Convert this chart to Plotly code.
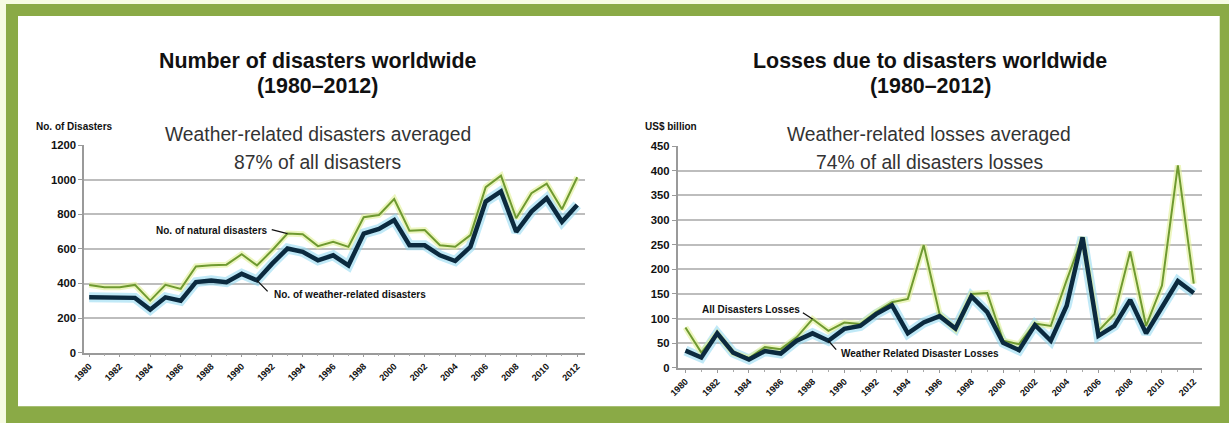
import plotly.graph_objects as go

W, H = 1229, 423

# ---- data -------------------------------------------------------------
years = list(range(1980, 2013))

natural_disasters = [392, 379, 379, 392, 301, 392, 369, 499, 505, 509,
                     569, 505, 592, 689, 685, 616, 641, 612, 783, 796,
                     888, 705, 709, 621, 612, 680, 957, 1023, 777, 922,
                     977, 829, 1014]
weather_disasters = [320, 320, 317, 317, 249, 320, 301, 408, 418, 408,
                     456, 418, 515, 602, 583, 534, 563, 505, 689, 715,
                     767, 621, 621, 563, 530, 612, 874, 932, 699, 816,
                     893, 757, 854]

all_losses = [82, 31, 70, 30, 20, 42, 38, 62, 99, 75,
              92, 89, 113, 133, 140, 249, 109, 78, 150, 152,
              55, 48, 90, 85, 178, 265, 75, 109, 236, 85,
              167, 411, 171]
weather_losses = [35, 21, 70, 31, 17, 34, 29, 55, 70, 55,
                  79, 85, 109, 127, 70, 92, 105, 80, 145, 113,
                  51, 36, 87, 55, 126, 265, 65, 85, 138, 70,
                  123, 176, 152]

xtick_vals = list(range(1980, 2013, 2))
xtick_text = [str(v) for v in xtick_vals]

# ---- styling ------------------------------------------------------------
FRAME_GREEN = "#8aaa46"
OUTER_BG = "#f6fbe2"
GRID = "#bdbdbd"
NAVY = "#0b2a3f"
OLIVE = "#6f9a30"
FONT = "Liberation Sans, Arial, sans-serif"

# layout positions are given in screen pixels; the page is shown slightly
# inset and shrunk, so convert through that view transform
OX, OY = 13.0, 8.0
SX, SY = 0.988, 0.964


def px(x):
    return (x - OX) / SX / W


def py(y):
    return 1 - (y - OY) / SY / H


def fs(size):
    return round(size / 0.976, 1)


fig = go.Figure()


def add_pair(xa, ya, top, bottom):
    # soft halos under the lines, then the lines themselves
    fig.add_trace(go.Scatter(x=years, y=bottom, xaxis=xa, yaxis=ya, mode="lines",
                             line=dict(color="rgba(140,215,240,0.55)", width=10),
                             hoverinfo="skip", showlegend=False))
    fig.add_trace(go.Scatter(x=years, y=top, xaxis=xa, yaxis=ya, mode="lines",
                             line=dict(color="rgba(225,240,150,0.6)", width=6),
                             hoverinfo="skip", showlegend=False))
    fig.add_trace(go.Scatter(x=years, y=top, xaxis=xa, yaxis=ya, mode="lines",
                             line=dict(color=OLIVE, width=2), showlegend=False))
    fig.add_trace(go.Scatter(x=years, y=bottom, xaxis=xa, yaxis=ya, mode="lines",
                             line=dict(color=NAVY, width=4.5), showlegend=False))


add_pair("x", "y", natural_disasters, weather_disasters)
add_pair("x2", "y2", all_losses, weather_losses)

xaxis_common = dict(
    tickmode="array", tickvals=xtick_vals, ticktext=xtick_text, tickangle=-45,
    tickfont=dict(family=FONT, size=fs(9), color="#111", weight="bold"),
    showgrid=False, zeroline=False, showline=True, linecolor="#9a9a9a", linewidth=1.5,
    ticks="outside", ticklen=3, tickcolor="#9a9a9a",
    minor=dict(ticks="outside", ticklen=2, tickcolor="#aaaaaa", dtick=1, tick0=1980),
    fixedrange=True,
)
yaxis_common = dict(
    tickfont=dict(family=FONT, size=fs(11), color="#111", weight="bold"),
    showgrid=True, gridcolor=GRID, gridwidth=1.5, zeroline=False,
    showline=True, linecolor="#9a9a9a", linewidth=1.5,
    ticks="outside", ticklen=4, tickcolor="#9a9a9a",
    fixedrange=True,
)

fig.update_layout(
    width=W, height=H,
    margin=dict(l=0, r=0, t=0, b=0),
    paper_bgcolor=OUTER_BG,
    plot_bgcolor="rgba(0,0,0,0)",
    showlegend=False,
    xaxis=dict(xaxis_common, domain=[px(85), px(585)], range=[1979.67, 2012.53], anchor="y"),
    yaxis=dict(yaxis_common, domain=[py(352), py(146)], range=[0, 1200], dtick=200, anchor="x"),
    xaxis2=dict(xaxis_common, domain=[px(677), px(1200)], range=[1979.5, 2012.5], anchor="y2"),
    yaxis2=dict(yaxis_common, domain=[py(367), py(147)], range=[0, 450], dtick=50, anchor="x2"),
)

# green frame with a white panel inside
fig.add_shape(type="rect", xref="paper", yref="paper", layer="below",
              x0=px(7), x1=px(1240), y0=py(440), y1=py(6),
              fillcolor=FRAME_GREEN, line_width=0)
fig.add_shape(type="rect", xref="paper", yref="paper", layer="below",
              x0=px(19), x1=px(1218), y0=py(405), y1=py(18),
              fillcolor="white", line_width=0)

ann = []


def text(x, y, s, size, bold=False, color="#111", xanchor="center"):
    ann.append(dict(x=px(x), y=py(y), xref="paper", yref="paper", text=s, showarrow=False,
                    xanchor=xanchor, yanchor="middle",
                    font=dict(family=FONT, size=fs(size), color=color,
                              weight="bold" if bold else "normal")))


# titles
text(318, 63, "Number of disasters worldwide", 20.9, bold=True)
text(318, 87, "(1980–2012)", 20.9, bold=True)
text(929, 63, "Losses due to disasters worldwide", 20.9, bold=True)
text(929, 87, "(1980–2012)", 20.9, bold=True)

# subtitles
text(318, 135, "Weather-related disasters averaged", 18.8, color="#333")
text(318, 163, "87% of all disasters", 18.8, color="#333")
text(928, 135, "Weather-related losses averaged", 18.8, color="#333")
text(928, 163, "74% of all disasters losses", 18.8, color="#333")

# axis captions
text(35, 128, "No. of Disasters", 9.8, bold=True, xanchor="left")
text(643, 128, "US$ billion", 9.8, bold=True, xanchor="left")

# series labels
text(270, 231, "No. of natural disasters", 9.8, bold=True, xanchor="right")
text(272, 294, "No. of weather-related disasters", 9.8, bold=True, xanchor="left")
text(801, 309, "All Disasters Losses", 9.8, bold=True, xanchor="right")
text(838, 353, "Weather Related Disaster Losses", 9.8, bold=True, xanchor="left")


# short leader lines from labels to the series
def leader(xref, yref, xv, yv, ax, ay):
    ann.append(dict(x=xv, y=yv, xref=xref, yref=yref, text="", showarrow=True,
                    arrowhead=0, arrowwidth=1.3, arrowcolor="#111",
                    ax=ax / SX, ay=ay / SY))


leader("x", "y", years[13], natural_disasters[13], -17, -4)
leader("x", "y", years[11], weather_disasters[11], 12, 12)
leader("x2", "y2", years[8], all_losses[8], -11, -7)
leader("x2", "y2", years[9], weather_losses[9], 9, 10)

fig.update_layout(annotations=ann)

fig.write_html("out.html")
